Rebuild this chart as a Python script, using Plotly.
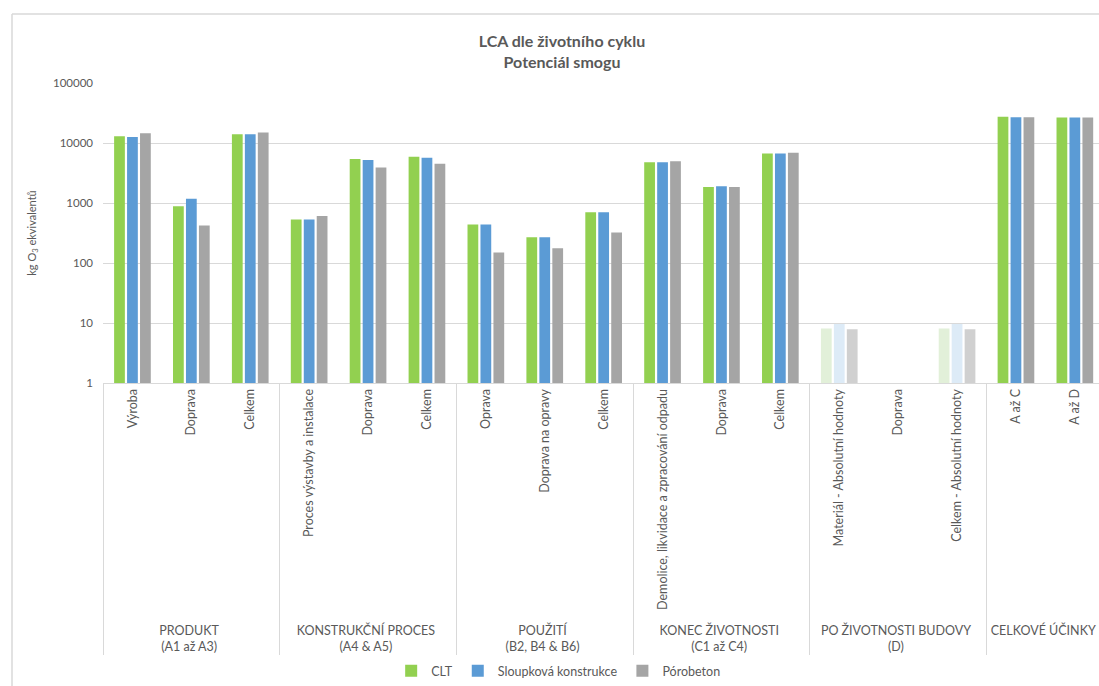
import plotly.graph_objects as go

# ---- data ----
groups = (["PRODUKT<br>(A1 až A3)"] * 3
          + ["KONSTRUKČNÍ PROCES<br>(A4 & A5)"] * 3
          + ["POUŽITÍ<br>(B2, B4 & B6)"] * 3
          + ["KONEC ŽIVOTNOSTI<br>(C1 až C4)"] * 3
          + ["PO ŽIVOTNOSTI BUDOVY<br>(D)"] * 3
          + ["CELKOVÉ ÚČINKY"] * 2)
labels = ["Výroba", "Doprava", "Celkem",
          "Proces výstavby a instalace", "Doprava", "Celkem",
          "Oprava", "Doprava na opravy", "Celkem",
          "Demolice, likvidace a zpracování odpadu", "Doprava", "Celkem",
          "Materiál - Absolutní hodnoty", "Doprava", "Celkem - Absolutní hodnoty",
          "A až C", "A až D"]

clt = [12900, 880, 14000, 530, 5400, 5900, 440, 268, 700, 4800, 1850, 6700,
       8.1, None, 8.1, 27500, 26700]
sloupkova = [12600, 1180, 14000, 530, 5200, 5700, 440, 268, 700, 4800, 1900, 6700,
             9.6, None, 9.6, 26800, 26700]
porobeton = [14500, 420, 14900, 605, 3900, 4500, 149, 176, 322, 4950, 1850, 6900,
             7.9, None, 7.9, 26800, 26700]

# absolute-value categories are drawn faded
faded = [False] * 12 + [True, True, True] + [False, False]

series = [
    ("CLT", clt, "#92d050", "#e2f0d9"),
    ("Sloupková konstrukce", sloupkova, "#5b9bd5", "#ddebf7"),
    ("Pórobeton", porobeton, "#a5a5a5", "#d0d0d0"),
]

# make repeated inner labels unique (invisible zero-width suffix) so that
# the multicategory axis keeps the data order inside every group
seen = {}
label_keys = []
for lab in labels:
    n = seen.get(lab, 0)
    seen[lab] = n + 1
    label_keys.append(lab + "\u200b" * n)

FONT = "Lato"
TXT = "#595959"
GRID = "#d9d9d9"

fig = go.Figure()
for name, vals, col, light in series:
    fig.add_trace(go.Bar(
        name=name,
        x=[groups, label_keys],
        y=vals,
        marker=dict(color=[light if f else col for f in faded],
                    line=dict(width=0)),
    ))

fig.update_layout(
    width=1099, height=686,
    margin=dict(l=103, r=0, t=83, b=303),
    paper_bgcolor="white", plot_bgcolor="white",
    barmode="group", bargap=0.34, bargroupgap=0.17,
    font=dict(family=FONT, size=12, color=TXT),
    title=dict(text="<b>LCA dle životního cyklu<br>Potenciál smogu</b>",
               x=562 / 1099, xanchor="center",
               y=1 - 47 / 686, yanchor="middle", yref="container",
               font=dict(family=FONT, size=16, color=TXT)),
    legend=dict(orientation="h", x=0.457, xanchor="center",
                y=-0.963, yanchor="middle",
                font=dict(family=FONT, size=12.5, color=TXT),
                itemwidth=30, tracegroupgap=0),
    showlegend=True,
)

fig.update_yaxes(
    type="log", range=[0, 5],
    tickvals=[1, 10, 100, 1000, 10000, 100000],
    ticktext=["1", "10", "100", "1000", "10000", "100000"],
    showgrid=True, gridcolor=GRID, gridwidth=1,
    zeroline=False, showline=False,
    ticks="", ticklabelstandoff=9,
    tickfont=dict(family=FONT, size=11.5, color=TXT),
    title=dict(text="kg O<sub>3</sub> ekvivalentů",
               font=dict(family=FONT, size=11, color=TXT), standoff=14),
)

fig.update_xaxes(
    type="multicategory",
    range=[-0.5, 16.41],
    tickangle=-90,
    showline=True, linecolor=GRID, linewidth=1,
    showgrid=False, ticks="",
    showdividers=True, dividercolor=GRID, dividerwidth=1,
    tickfont=dict(family=FONT, size=12.5, color=TXT),
)

# outer chart frame (top and left edges)
fig.add_shape(type="line", xref="paper", yref="paper",
              x0=(12 - 103) / 996, x1=1.0, y0=(383 - 14) / 300, y1=(383 - 14) / 300,
              line=dict(color=GRID, width=1.5))
fig.add_shape(type="line", xref="paper", yref="paper",
              x0=(12 - 103) / 996, x1=(12 - 103) / 996,
              y0=(383 - 14) / 300, y1=(383 - 700) / 300,
              line=dict(color=GRID, width=1.5))

fig.write_html("out.html")
